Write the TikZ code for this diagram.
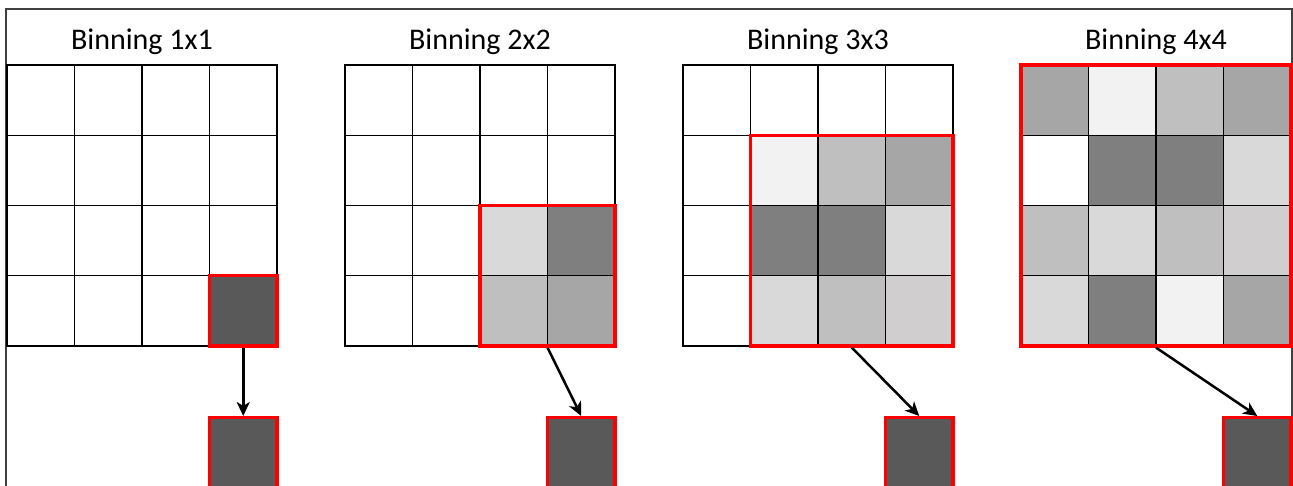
\documentclass[tikz,border=0pt]{standalone}
\usepackage{fontspec}
\setmainfont{Carlito}
\usetikzlibrary{arrows.meta, positioning}
\definecolor{binF2}{HTML}{F2F2F2}
\definecolor{binD9}{HTML}{D9D9D9}
\definecolor{binD0}{HTML}{D0CECE}
\definecolor{binBF}{HTML}{BFBFBF}
\definecolor{binA6}{HTML}{A6A6A6}
\definecolor{bin7F}{HTML}{7F7F7F}
\definecolor{bin59}{HTML}{595959}
\definecolor{binred}{HTML}{FF0000}
% one pixel cell: grid, column, row
\newcommand{\cellpos}[3]{({7+338*#1+67.5*#2},{65+70.25*#3})}

\begin{document}
\begin{tikzpicture}[
    x=1pt, y=-1pt,
    >={Stealth[length=14pt, width=13pt, inset=4pt]},
    cell/.style  ={draw=black, line width=1.4pt},
    title/.style ={font=\fontsize{30}{35}\selectfont, anchor=base},
    binbox/.style={draw=binred, line width=3.2pt, inner sep=0pt},
    outbox/.style={draw=binred, line width=3.2pt, inner sep=0pt, fill=bin59,
                   minimum width=67.5pt, minimum height=73pt, anchor=north},
    flow/.style  ={->, line width=2.5pt},
]
\useasboundingbox (0,0) rectangle (1293,486);
% frame
\draw[black!75, line width=1.3pt] (6,490) -- (6,9) -- (1292,9) -- (1292,490);
% titles
\node[title] (t1) at (142,50) {Binning 1x1};
\node[title] (t2) at (480,50) {Binning 2x2};
\node[title] (t3) at (818,50) {Binning 3x3};
\node[title] (t4) at (1156,50) {Binning 4x4};
% empty 4x4 grids
\foreach \g in {0,...,3}
  \foreach \c in {0,...,3}
    \foreach \r in {0,...,3}
      \draw[cell, fill=white] \cellpos{\g}{\c}{\r} rectangle ++(67.5,70.25);
% shaded pixels
\foreach \g/\c/\r/\col in {
    0/3/3/bin59,
    1/2/2/binD9, 1/3/2/bin7F, 1/2/3/binBF, 1/3/3/binA6,
    2/1/1/binF2, 2/2/1/binBF, 2/3/1/binA6,
    2/1/2/bin7F, 2/2/2/bin7F, 2/3/2/binD9,
    2/1/3/binD9, 2/2/3/binBF, 2/3/3/binD0,
    3/0/0/binA6, 3/1/0/binF2, 3/2/0/binBF, 3/3/0/binA6,
    3/0/1/white, 3/1/1/bin7F, 3/2/1/bin7F, 3/3/1/binD9,
    3/0/2/binBF, 3/1/2/binD9, 3/2/2/binBF, 3/3/2/binD0,
    3/0/3/binD9, 3/1/3/bin7F, 3/2/3/binF2, 3/3/3/binA6}
  \draw[cell, fill=\col] \cellpos{\g}{\c}{\r} rectangle ++(67.5,70.25);
% binned regions
\node[binbox, minimum width=67.5pt,  minimum height=70.25pt]  (bin1) at (243.25,310.875) {};
\node[binbox, minimum width=135pt,   minimum height=140.5pt]  (bin2) at (547.5,275.75) {};
\node[binbox, minimum width=202.5pt, minimum height=210.75pt] (bin3) at (851.75,240.625) {};
\node[binbox, minimum width=270pt,   minimum height=281pt]    (bin4) at (1156,205.5) {};
% resulting pixels
\node[outbox] (out1) at (243.25,416) {};
\node[outbox] (out2) at (581.25,416) {};
\node[outbox] (out3) at (919.25,416) {};
\node[outbox] (out4) at (1257.25,416) {};
\draw[flow] (bin1.south) -- (out1.north);
\draw[flow] (bin2.south) -- (out2.north);
\draw[flow] (bin3.south) -- (out3.north);
\draw[flow] (bin4.south) -- (out4.north);
\end{tikzpicture}
\end{document}
